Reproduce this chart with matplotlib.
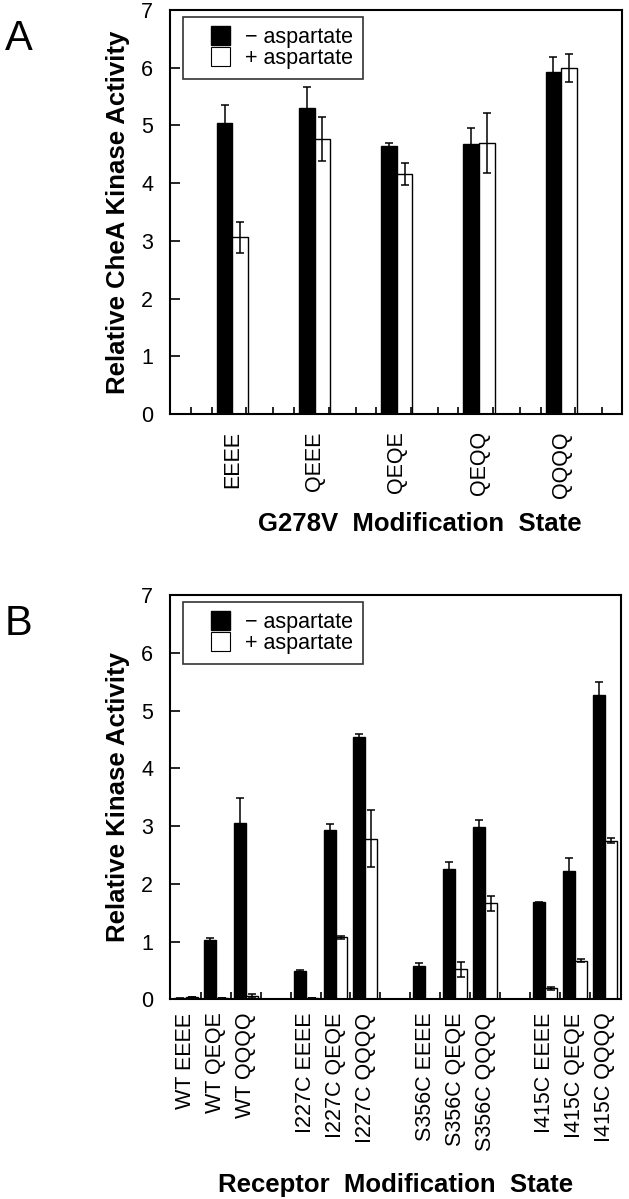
import numpy as np
import matplotlib
matplotlib.use("Agg")
import matplotlib.pyplot as plt
from matplotlib.patches import Rectangle
from matplotlib.legend_handler import HandlerPatch

plt.rcParams['font.family'] = ['Liberation Sans', 'DejaVu Sans']

# panel A data
a_states = ["EEEE", "QEEE", "QEQE", "QEQQ", "QQQQ"]
a_minus = [5.05, 5.30, 4.65, 4.68, 5.93]
a_minus_err = [0.31, 0.37, 0.05, 0.27, 0.25]
a_plus = [3.06, 4.76, 4.15, 4.70, 6.00]
a_plus_err = [0.27, 0.38, 0.19, 0.52, 0.24]

# panel B data (receptor, modification state)
b_labels = ["WT EEEE", "WT QEQE", "WT QQQQ",
            "I227C EEEE", "I227C QEQE", "I227C QQQQ",
            "S356C EEEE", "S356C QEQE", "S356C QQQQ",
            "I415C EEEE", "I415C QEQE", "I415C QQQQ"]
b_minus = [0.02, 1.02, 3.06, 0.49, 2.93, 4.54, 0.58, 2.26, 2.98, 1.68, 2.23, 5.27]
b_minus_err = [0.01, 0.04, 0.43, 0.02, 0.11, 0.06, 0.05, 0.12, 0.13, 0.01, 0.22, 0.23]
b_plus = [0.04, 0.03, 0.06, 0.02, 1.07, 2.78, 0.0, 0.52, 1.66, 0.19, 0.67, 2.75]
b_plus_err = [0.0, 0.0, 0.03, 0.0, 0.03, 0.49, 0.0, 0.13, 0.13, 0.03, 0.03, 0.05]

FS = 15.5
LFS = 18.5

fig = plt.figure(figsize=(6.29, 11.99), dpi=100)


def square_patch(legend, orig_handle, xdescent, ydescent, width, height, fontsize):
    # square sitting at the right end of the handle box
    h = 1.1 * height
    return Rectangle((-xdescent + width - h, -ydescent - 0.05 * height), h, h)


def style_axes(ax, ylabel):
    for s in ax.spines.values():
        s.set_linewidth(1.5)
    ax.set_ylim(0, 7)
    ax.set_yticks(range(8))
    ax.tick_params(axis='y', direction='in', length=7, width=1.2, labelsize=FS, pad=12)
    ax.tick_params(axis='x', direction='in', length=5, width=1.2, labelsize=FS)
    ax.set_ylabel(ylabel, fontsize=LFS, fontweight='bold', labelpad=8)


def add_legend(ax):
    handles = [Rectangle((0, 0), 1, 1, facecolor='black', edgecolor='black', linewidth=1),
               Rectangle((0, 0), 1, 1, facecolor='white', edgecolor='black', linewidth=0.8)]
    leg = ax.legend(handles, ['\u2212 aspartate', '+ aspartate'],
                    loc='upper left', bbox_to_anchor=(0.029, 0.983), fontsize=FS,
                    frameon=True, fancybox=False, edgecolor='black',
                    labelspacing=0.0, handlelength=1.75, handleheight=0.88,
                    handletextpad=0.7, borderpad=0.45, borderaxespad=0,
                    handler_map={Rectangle: HandlerPatch(patch_func=square_patch)})
    leg.get_frame().set_linewidth(1.2)


# ---- panel A
axA = fig.add_axes([0.270, 0.6547, 0.719, 0.337])
xa = np.arange(len(a_states))
w = 0.19
errkw = dict(ecolor='black', capsize=3, elinewidth=1.1, capthick=1.1)
axA.bar(xa - w / 2, a_minus, w, yerr=a_minus_err, color='black', edgecolor='black',
        linewidth=1, error_kw=errkw)
axA.bar(xa + w / 2, a_plus, w, yerr=a_plus_err, color='white', edgecolor='black',
        linewidth=1, error_kw=errkw)
axA.set_xlim(-0.76, len(a_states) - 0.26)
style_axes(axA, 'Relative CheA Kinase Activity')
ticks_a = sorted([i + d for i in xa for d in (-0.5, -0.25, 0.17)] + [len(a_states) - 0.5])
axA.set_xticks(ticks_a)
axA.set_xticklabels([])
for i, s in enumerate(a_states):
    axA.text(i, -0.3, s, rotation=90, ha='center', va='top', fontsize=FS)
axA.text(0.553, -0.243, 'G278V  Modification  State', transform=axA.transAxes,
         ha='center', va='top', fontsize=LFS, fontweight='bold')
add_legend(axA)

# ---- panel B
axB = fig.add_axes([0.270, 0.1666, 0.717, 0.337])
xb = np.array([g * 4 + j for g in range(4) for j in range(3)])
wb = 0.4
axB.bar(xb - wb / 2, b_minus, wb, yerr=b_minus_err, color='black', edgecolor='black',
        linewidth=1, error_kw=errkw)
axB.bar(xb + wb / 2, b_plus, wb, yerr=b_plus_err, color='white', edgecolor='black',
        linewidth=1, error_kw=errkw)
axB.set_xlim(-0.54, xb[-1] + 0.54)
style_axes(axB, 'Relative Kinase Activity')
axB.set_xticks(np.arange(xb[-1]) + 0.5)
axB.set_xticklabels([])
for x, s in zip(xb, b_labels):
    axB.text(x, -0.23, s, rotation=90, ha='center', va='top', fontsize=FS)
axB.text(0.5, -0.43, 'Receptor  Modification  State', transform=axB.transAxes,
         ha='center', va='top', fontsize=LFS, fontweight='bold')
add_legend(axB)

fig.text(0.008, 1 - 50 / 1199, 'A', fontsize=30, ha='left', va='baseline')
fig.text(0.008, 1 - 635 / 1199, 'B', fontsize=30, ha='left', va='baseline')

fig.savefig('out.png', dpi=100)
